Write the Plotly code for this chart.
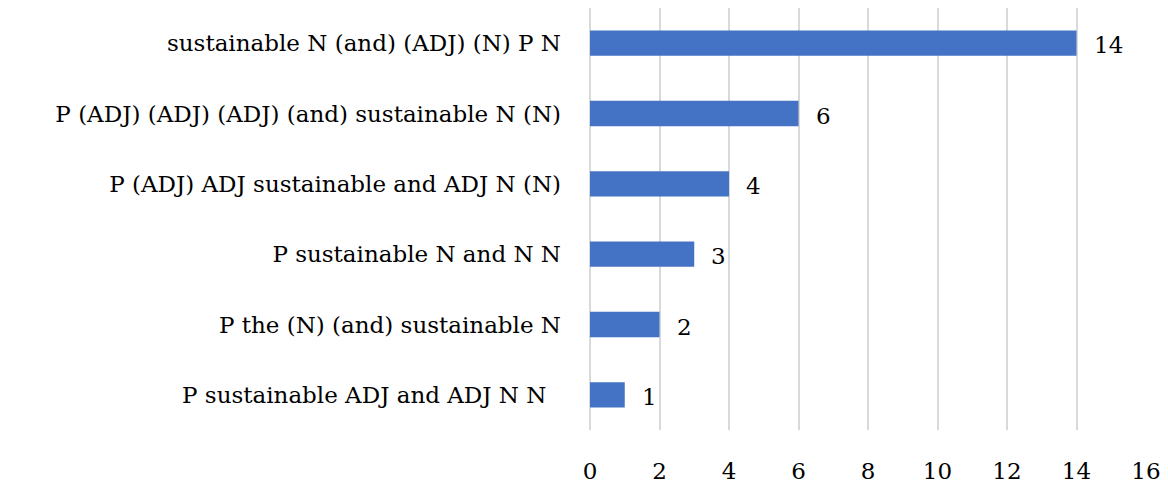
import plotly.graph_objects as go

# Phrase patterns (bottom to top) and their counts
patterns = [
    "P sustainable ADJ and ADJ N N\u00a0\u00a0",
    "P the (N) (and) sustainable N",
    "P sustainable N and N N",
    "P (ADJ) ADJ sustainable and ADJ N (N)",
    "P (ADJ) (ADJ) (ADJ) (and) sustainable N (N)",
    "sustainable N (and) (ADJ) (N) P N",
]
counts = [1, 2, 3, 4, 6, 14]
x_ticks = [0, 2, 4, 6, 8, 10, 12, 14, 16]

FONT = "DejaVu Serif"
FS = 23
BLUE = "#4472C4"
GRID = "#D9D9D9"

fig = go.Figure(
    go.Bar(
        x=counts,
        y=patterns,
        orientation="h",
        marker=dict(color=BLUE, line=dict(width=0)),
        hoverinfo="skip",
    )
)

for c, p in zip(counts, patterns):
    fig.add_annotation(
        x=c, y=p, text=str(c), showarrow=False,
        xanchor="left", xshift=15, yshift=-2,
        font=dict(family=FONT, size=FS, color="#000000"),
    )

fig.update_layout(
    width=1168, height=485,
    margin=dict(l=590, r=22, t=8, b=55),
    paper_bgcolor="white", plot_bgcolor="white",
    bargap=0.64,
    showlegend=False,
    font=dict(family=FONT, size=FS, color="#000000"),
)
fig.update_xaxes(
    range=[0, 16], tickvals=x_ticks, ticktext=[str(t) for t in x_ticks],
    showgrid=True, gridcolor=GRID, gridwidth=1.5,
    zeroline=True, zerolinecolor=GRID, zerolinewidth=1.5,
    showline=False, ticks="", automargin=False,
    tickfont=dict(family=FONT, size=FS), ticklabelstandoff=25,
)
fig.update_yaxes(
    categoryorder="array", categoryarray=patterns,
    showgrid=False, showline=False, zeroline=False, ticks="", automargin=False,
    tickfont=dict(family=FONT, size=FS), ticklabelstandoff=28,
)

fig.write_html("out.html")
